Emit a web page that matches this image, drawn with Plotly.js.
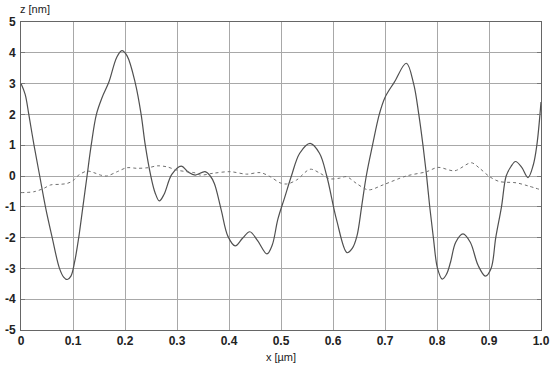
<!DOCTYPE html>
<html>
<head>
<meta charset="utf-8">
<script src="https://cdn.plot.ly/plotly-3.0.1.min.js"></script>
<style>
  body { margin: 0; padding: 0; background: #fff; }
  #plot { width: 550px; height: 365px; }
</style>
</head>
<body>
<div id="plot"></div>
<script>
// profile z(x), solid curve
var xSolid = [0.000, 0.008, 0.015, 0.025, 0.036, 0.047, 0.060, 0.074, 0.082, 0.089, 0.096, 0.103,
              0.111, 0.119, 0.127, 0.135, 0.145, 0.156, 0.169, 0.184, 0.194, 0.204, 0.220, 0.231,
              0.239, 0.249, 0.258, 0.266, 0.275, 0.290, 0.308, 0.322, 0.335, 0.354, 0.364, 0.372,
              0.385, 0.398, 0.412, 0.426, 0.440, 0.455, 0.473, 0.483, 0.494, 0.507, 0.520, 0.536,
              0.556, 0.574, 0.588, 0.607, 0.627, 0.637, 0.646, 0.655, 0.664, 0.676, 0.689, 0.700,
              0.718, 0.741, 0.755, 0.765, 0.773, 0.780, 0.786, 0.793, 0.801, 0.810, 0.818, 0.826,
              0.836, 0.850, 0.864, 0.879, 0.893, 0.904, 0.913, 0.924, 0.933, 0.942, 0.951, 0.963,
              0.975, 0.985, 0.992, 1.000];
var zSolid = [3.00, 2.65, 2.00, 1.00, 0.00, -1.00, -2.00, -3.00, -3.28, -3.36, -3.25, -2.80,
              -2.00, -1.00, 0.00, 1.00, 2.00, 2.55, 3.05, 3.85, 4.07, 3.90, 3.00, 2.00,
              1.00, 0.05, -0.55, -0.81, -0.60, 0.05, 0.32, 0.12, 0.03, 0.14, 0.00, -0.25,
              -1.10, -1.96, -2.27, -2.02, -1.81, -2.10, -2.53, -2.25, -1.40, -0.70, 0.00, 0.74,
              1.06, 0.74, 0.00, -1.43, -2.49, -2.35, -1.95, -1.00, 0.00, 1.00, 2.00, 2.55,
              3.05, 3.66, 3.00, 2.00, 1.00, 0.00, -1.00, -2.00, -3.00, -3.35, -3.20, -2.80,
              -2.15, -1.88, -2.15, -2.90, -3.25, -3.00, -2.00, -1.00, 0.00, 0.30, 0.47, 0.28,
              -0.05, 0.35, 1.00, 2.40];

// second profile, dotted curve
var xDotted = [0.000, 0.025, 0.044, 0.057, 0.075, 0.089, 0.100, 0.111, 0.127, 0.140, 0.153, 0.165,
               0.185, 0.204, 0.223, 0.245, 0.262, 0.280, 0.300, 0.319, 0.335, 0.345, 0.370, 0.402,
               0.434, 0.460, 0.479, 0.498, 0.511, 0.530, 0.556, 0.575, 0.594, 0.613, 0.626, 0.645,
               0.668, 0.696, 0.741, 0.780, 0.802, 0.834, 0.866, 0.882, 0.901, 0.920, 0.952, 0.975,
               1.000];
var zDotted = [-0.54, -0.51, -0.40, -0.29, -0.27, -0.24, -0.15, 0.03, 0.16, 0.11, 0.03, 0.00,
               0.14, 0.27, 0.25, 0.27, 0.33, 0.30, 0.19, 0.14, 0.10, 0.03, 0.09, 0.14,
               0.06, 0.11, -0.02, -0.22, -0.26, -0.13, 0.22, 0.09, -0.09, -0.07, -0.02, -0.24,
               -0.45, -0.29, 0.00, 0.14, 0.28, 0.17, 0.43, 0.25, -0.02, -0.18, -0.22, -0.32,
               -0.45];

var xTickVals = [0, 0.1, 0.2, 0.3, 0.4, 0.5, 0.6, 0.7, 0.8, 0.9, 1.0];
var xTickText = ["0", "0.1", "0.2", "0.3", "0.4", "0.5", "0.6", "0.7", "0.8", "0.9", "1.0"];
var yTickVals = [-5, -4, -3, -2, -1, 0, 1, 2, 3, 4, 5];
var yTickText = ["-5", "-4", "-3", "-2", "-1", "0", "1", "2", "3", "4", "5"];

var trace1 = {
    x: xSolid,
    y: zSolid,
    mode: "lines",
    line: {color: "#505050", width: 1.2, shape: "spline", smoothing: 1},
    hoverinfo: "skip"
};

var trace2 = {
    x: xDotted,
    y: zDotted,
    mode: "lines",
    line: {color: "#707070", width: 1, dash: "dot", shape: "spline", smoothing: 0.9},
    hoverinfo: "skip"
};

var tickFont = {family: "Liberation Sans, Arial, sans-serif", size: 12, color: "#222", weight: "bold"};

var layout = {
    width: 550,
    height: 365,
    margin: {l: 20.5, r: 9, t: 22, b: 35},
    paper_bgcolor: "#fff",
    plot_bgcolor: "#fff",
    showlegend: false,
    xaxis: {
        range: [0, 1],
        tickvals: xTickVals,
        ticktext: xTickText,
        tickfont: tickFont,
        showgrid: true,
        gridcolor: "#a8a8a8",
        gridwidth: 1,
        zeroline: false,
        showline: true,
        linecolor: "#666",
        linewidth: 1,
        mirror: true,
        ticks: "",
        title: {text: "x [µm]", font: {family: "Liberation Sans, Arial, sans-serif", size: 11, color: "#222"}, standoff: 5}
    },
    yaxis: {
        range: [-5, 5],
        tickvals: yTickVals,
        ticktext: yTickText,
        tickfont: tickFont,
        showgrid: true,
        gridcolor: "#a8a8a8",
        gridwidth: 1,
        zeroline: false,
        showline: true,
        linecolor: "#666",
        linewidth: 1,
        mirror: "ticks",
        ticks: "inside",
        ticklen: 4,
        tickcolor: "#777",
        ticklabelstandoff: 2
    },
    annotations: [{
        text: "z [nm]",
        xref: "paper", yref: "paper",
        x: 0, y: 1,
        xanchor: "left", yanchor: "bottom",
        xshift: -3, yshift: 5,
        showarrow: false,
        font: {family: "Liberation Sans, Arial, sans-serif", size: 11, color: "#222"}
    }]
};

Plotly.newPlot("plot", [trace1, trace2], layout, {displayModeBar: false, staticPlot: true});
</script>
</body>
</html>
